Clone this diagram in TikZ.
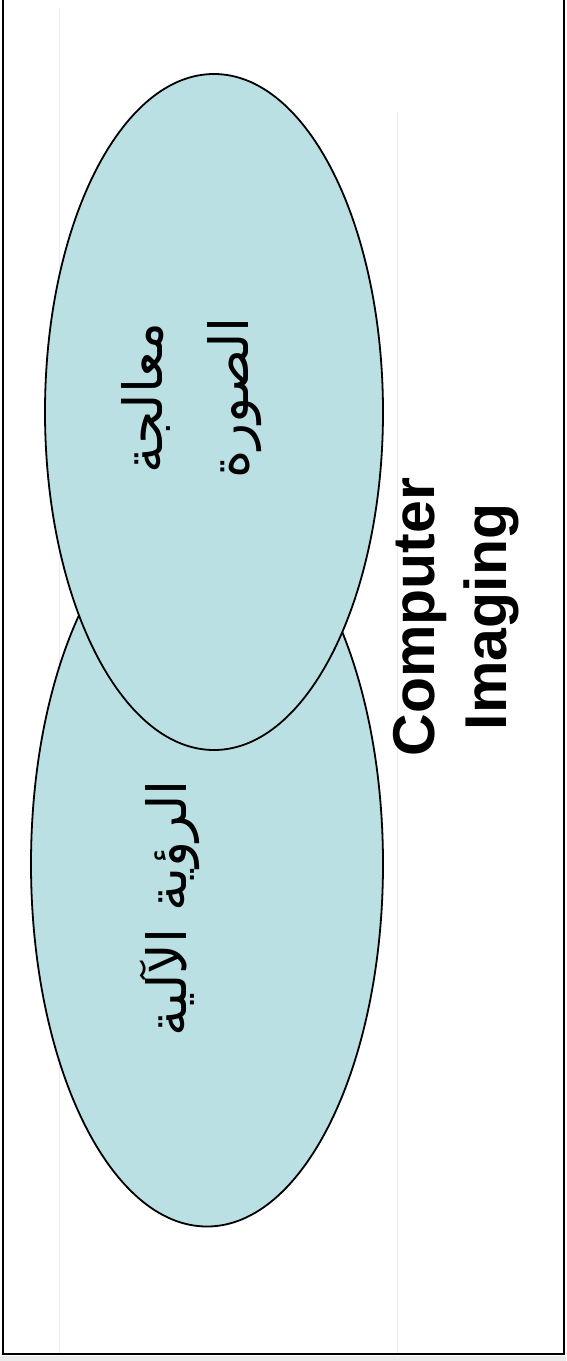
\documentclass[tikz,border=0pt]{standalone}
\usepackage{fontspec}
\setsansfont{Liberation Sans}
\newfontfamily\arabicfont[Script=Arabic]{DejaVu Sans}
\TeXXeTstate=1
\usetikzlibrary{shapes.geometric}
\definecolor{blobcyan}{RGB}{187,224,227}
\definecolor{ghostgray}{RGB}{236,236,236}

\begin{document}
\begin{tikzpicture}[
    x=1pt, y=-1pt,
    blob/.style={ellipse, draw=black, fill=blobcyan, line width=1.8pt,
                 inner sep=0pt},
    artext/.style={rotate=90, align=center, font=\arabicfont\fontsize{54}{86}\selectfont},
    entext/.style={rotate=90, align=center, font=\sffamily\bfseries\fontsize{59}{72}\selectfont}
]
\useasboundingbox (0,0) rectangle (566,1361);
\fill[ghostgray] (0,1356) rectangle (566,1361);

% faint background guides
\draw[ghostgray, line width=1pt] (59,8) -- (59,1354);
\draw[ghostgray, line width=1pt] (397,112) -- (397,1354);

% frame
\draw[line width=2.8pt] (3,0) -- (3,1354) -- (564,1354) -- (564,0);

\node[blob, minimum width=352pt, minimum height=725pt] (vision) at (207,864) {};
\node[blob, minimum width=338pt, minimum height=676pt] (proc) at (214,412) {};

\node[artext] (proclbl) at (192,398)
    {\beginR معالجة\endR\\\beginR الصورة\endR};
\node[artext] (visionlbl) at (170,908) {\beginR الرؤية الآلية\endR};

\node[entext] (imaging) at (456,617) {Computer\\Imaging};
\end{tikzpicture}
\end{document}
